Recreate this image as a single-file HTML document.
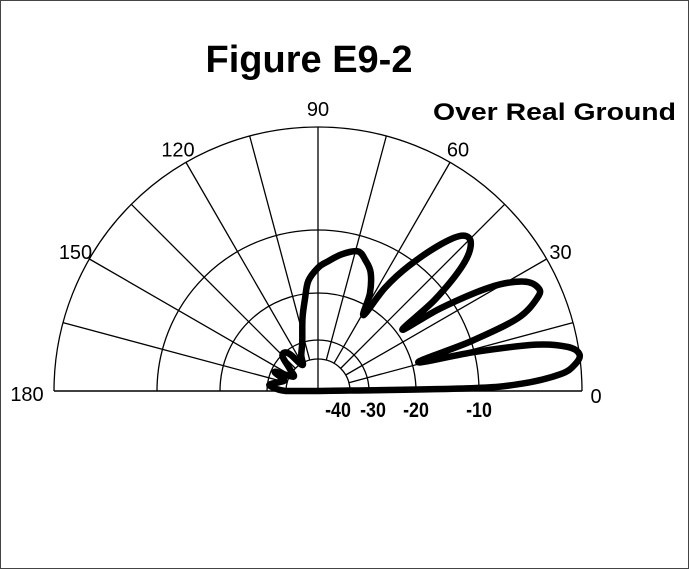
<!DOCTYPE html>
<html><head><meta charset="utf-8"><style>
html,body{margin:0;padding:0;background:#fff;}
svg{display:block;font-family:"Liberation Sans",sans-serif;}
</style></head><body>
<svg width="689" height="569" viewBox="0 0 689 569">
<rect x="0.5" y="0.5" width="688" height="568" fill="#fff" stroke="#444"/>
<text x="309" y="72" text-anchor="middle" font-size="38" font-weight="bold">Figure E9-2</text>
<text x="676" y="120" text-anchor="end" font-size="24" font-weight="bold" textLength="243" lengthAdjust="spacingAndGlyphs">Over Real Ground</text>
<g id="grid"></g>
<g id="labels"></g>
<path id="pattern" fill="none" stroke="#000" stroke-width="6.5" stroke-linejoin="round" stroke-linecap="round"/>
</svg>
<script>
const ringDb = [-40, -30, -20, -10, 0];
const ringLabels = ["-40", "-30", "-20", "-10"];
const angleTicks = [0, 30, 60, 90, 120, 150, 180];
const patternAngles = [0,1,2,4,6,8,10,12,14,16,18,20,23,25,28,31,34,36,38,41,44,47,50,54,57,59,62,66,70,74,80,86,90,95,98,102,108,115,121,127,131,136,142,150,156,162,167,173,178,180];
const patternDb = [-60,-12,-6,-2,-0.5,0,-1,-4,-10,-19,-10,-5,-2.5,-2,-3,-6,-12,-19,-12,-7,-5,-5,-7,-11,-16,-22,-18,-15,-13.5,-12.5,-13.5,-15,-16,-18,-21,-25,-30,-36,-41,-33,-30,-31,-38,-42,-32,-38,-36,-31,-36,-40];

const cx = 318, cy = 391;
const scaleDb = [-60, -50, -40, -30, -20, -10, 0];
const scaleR = [0, 15, 32, 51, 98, 161, 264];
function rOf(db){
  if (db <= scaleDb[0]) return 0;
  for (let i = 1; i < scaleDb.length; i++){
    if (db <= scaleDb[i]){
      const t = (db - scaleDb[i-1]) / (scaleDb[i] - scaleDb[i-1]);
      return scaleR[i-1] + t * (scaleR[i] - scaleR[i-1]);
    }
  }
  return scaleR[scaleR.length-1];
}
function pt(angle, r){
  const a = angle * Math.PI / 180;
  return [cx + r * Math.cos(a), cy - r * Math.sin(a)];
}
const NS = "http://www.w3.org/2000/svg";
const grid = document.getElementById('grid');
const labels = document.getElementById('labels');
const R = rOf(0);
ringDb.forEach(db => {
  const r = rOf(db);
  const p = document.createElementNS(NS, 'path');
  p.setAttribute('d', `M${cx - r},${cy} A${r},${r} 0 0 1 ${cx + r},${cy}`);
  p.setAttribute('fill', 'none');
  p.setAttribute('stroke', '#000');
  p.setAttribute('stroke-width', '1.3');
  
  
  grid.appendChild(p);
});
for (let a = 15; a < 180; a += 15){
  const r0 = a === 90 ? 0 : rOf(-40);
  const [x1, y1] = pt(a, r0), [x2, y2] = pt(a, R);
  const l = document.createElementNS(NS, 'line');
  l.setAttribute('x1', x1); l.setAttribute('y1', y1);
  l.setAttribute('x2', x2); l.setAttribute('y2', y2);
  l.setAttribute('stroke', '#000');
  l.setAttribute('stroke-width', '1.3');
  
  
  grid.appendChild(l);
}
const base = document.createElementNS(NS, 'line');
base.setAttribute('x1', cx - R); base.setAttribute('y1', cy);
base.setAttribute('x2', cx + R); base.setAttribute('y2', cy);
base.setAttribute('stroke', '#000');
base.setAttribute('stroke-width', '1.5');


grid.appendChild(base);
angleTicks.forEach(a => {
  let [x, y] = pt(a, R + 16);
  if (a === 0){ x = cx + R + 14; y = cy + 12; }
  else if (a === 180){ x = cx - R - 27; y = cy + 10; }
  else if (a === 90){ y += 5; }
  else { y += 8; }
  const t = document.createElementNS(NS, 'text');
  t.setAttribute('x', x); t.setAttribute('y', y);
  t.setAttribute('text-anchor', 'middle');
  t.setAttribute('font-size', '20');
  
  
  t.textContent = String(a);
  labels.appendChild(t);
});
const labelShift = [-12, 4, 0, 0];
ringLabels.forEach((s, i) => {
  const r = rOf(ringDb[i]);
  const t = document.createElementNS(NS, 'text');
  t.setAttribute('x', 0); t.setAttribute('y', 0);
  t.setAttribute('transform', `translate(${cx + r + labelShift[i]},${cy + 26}) scale(0.85,1)`);
  t.setAttribute('text-anchor', 'middle');
  t.setAttribute('font-size', '21');
  t.setAttribute('font-weight', 'bold');
  
  
  t.textContent = s;
  labels.appendChild(t);
});
const pts = patternAngles.map((a, i) => pt(a, rOf(patternDb[i])));
let d = `M${pts[0][0]},${pts[0][1]}`;
for (let i = 0; i < pts.length - 1; i++){
  const p0 = pts[Math.max(0, i-1)], p1 = pts[i], p2 = pts[i+1], p3 = pts[Math.min(pts.length-1, i+2)];
  const c1 = [p1[0] + (p2[0]-p0[0])/6, p1[1] + (p2[1]-p0[1])/6];
  const c2 = [p2[0] - (p3[0]-p1[0])/6, p2[1] - (p3[1]-p1[1])/6];
  d += ` C${c1[0]},${c1[1]} ${c2[0]},${c2[1]} ${p2[0]},${p2[1]}`;
}
d += ` L${cx},${cy} Z`;
document.getElementById('pattern').setAttribute('d', d);
</script>
</body></html>
